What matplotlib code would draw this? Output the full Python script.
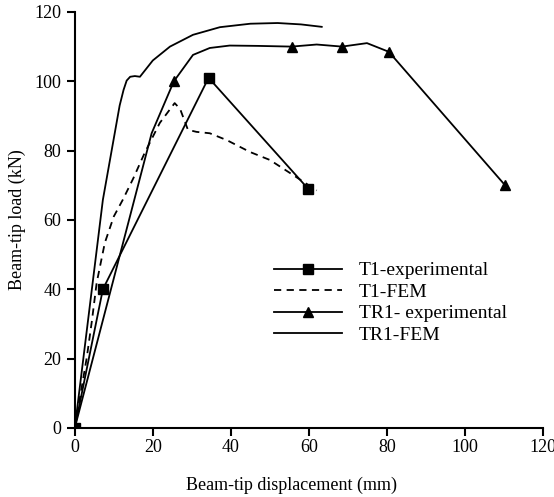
import numpy as np
import matplotlib
matplotlib.use('Agg')
import matplotlib.pyplot as plt

plt.rcParams['font.family'] = ['Liberation Serif', 'DejaVu Serif']

# T1 experimental
t1_exp_x = [0, 7.2, 34.3, 59.8]
t1_exp_y = [0, 40, 101, 69]

# T1 FEM
t1_fem_x = [0, 3.1, 4.4, 5.6, 7.7, 10, 12.3, 15, 17.9, 21.8, 25.6, 27, 29, 31.2, 34.6, 39, 44.9, 50, 55.9, 62]
t1_fem_y = [0, 20.5, 31, 41.8, 53.4, 61, 65.8, 72, 79.3, 88, 93.7, 92, 86, 85.4, 85, 83, 79.6, 77.3, 73, 68.5]

# TR1 experimental (markers at measured points)
tr1_exp_x = [0, 19.7, 25.4, 30.3, 34.6, 39.7, 47, 55.6, 62, 68.5, 74.9, 80.5, 110.3]
tr1_exp_y = [0, 85, 100, 107.6, 109.6, 110.3, 110.2, 110, 110.6, 110, 111, 108.5, 70]
tr1_mark = [0, 2, 7, 9, 11, 12]

# TR1 FEM
tr1_fem_x = [0, 7.2, 11.5, 12.5, 13.3, 14.2, 15.4, 16.7, 20, 24.4, 30.3, 37.2, 45, 52, 58, 63.3]
tr1_fem_y = [0, 65.8, 93, 97.5, 100.2, 101.3, 101.5, 101.3, 106, 110, 113.4, 115.6, 116.6, 116.8, 116.4, 115.7]

fig = plt.figure(figsize=(5.54, 4.97), dpi=100)
ax = fig.add_axes([0.135, 0.139, 0.845, 0.837])

lw = 1.3
ax.plot(t1_exp_x, t1_exp_y, color='black', lw=lw, marker='s', ms=7, label='T1-experimental')
ax.plot(t1_fem_x, t1_fem_y, color='black', lw=lw, ls=(0, (4, 3)), label='T1-FEM')
ax.plot(tr1_exp_x, tr1_exp_y, color='black', lw=lw, marker='^', ms=7, markevery=tr1_mark,
        label='TR1- experimental')
ax.plot(tr1_fem_x, tr1_fem_y, color='black', lw=lw, label='TR1-FEM')

ax.set_xlim(0, 120)
ax.set_ylim(0, 120)
ax.set_xticks(np.arange(0, 121, 20))
ax.set_yticks(np.arange(0, 121, 20))
for s in ['top', 'right']:
    ax.spines[s].set_visible(False)
for s in ['left', 'bottom']:
    ax.spines[s].set_linewidth(1.5)
ax.tick_params(direction='out', length=6, width=1.5, labelsize=13)
ax.tick_params(axis='x', pad=2)
ax.set_ylabel('Beam-tip load (kN)', fontsize=13, labelpad=6)
fig.text(291 / 554, 1 - 485 / 497, 'Beam-tip displacement (mm)', fontsize=13,
         ha='center', va='center')

ax.legend(loc='upper left', bbox_to_anchor=(0.408, 0.418), frameon=False, fontsize=14,
          handlelength=3.5, handletextpad=0.9, labelspacing=0.2, borderaxespad=0)

fig.savefig('out.png', dpi=100)
